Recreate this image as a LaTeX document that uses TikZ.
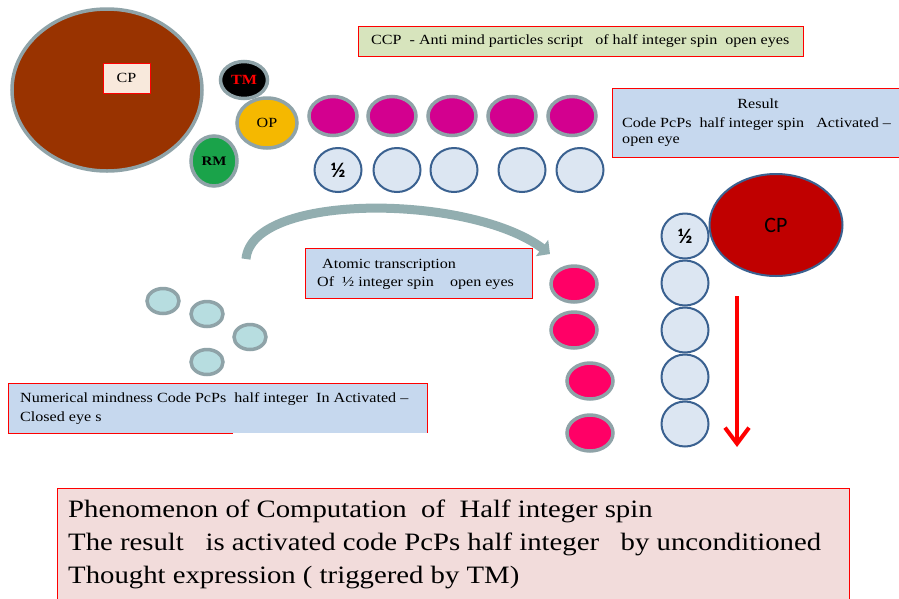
\documentclass[tikz,border=0pt]{standalone}
\usepackage{fontspec}
\setmainfont{Liberation Serif}[FakeStretch=1.15]
\newfontfamily\calib{Carlito}
\usetikzlibrary{shapes.geometric,arrows.meta}
\definecolor{ringc}{HTML}{8FA3A8}
\definecolor{brownc}{HTML}{993300}
\definecolor{cplblc}{HTML}{F8E9DC}
\definecolor{opc}{HTML}{F5B800}
\definecolor{rmc}{HTML}{1AA34A}
\definecolor{magc}{HTML}{D3008F}
\definecolor{pinkc}{HTML}{FF0066}
\definecolor{litec}{HTML}{DCE6F2}
\definecolor{dblue}{HTML}{3A6190}
\definecolor{redcp}{HTML}{C00000}
\definecolor{boxblue}{HTML}{C6D8EE}
\definecolor{boxgreen}{HTML}{D7E4BD}
\definecolor{boxpink}{HTML}{F2DCDB}
\definecolor{tealc}{HTML}{B7DDE0}
\definecolor{arrowc}{HTML}{92AEB0}
\begin{document}
\begin{tikzpicture}[x=1pt,y=-1pt,
  ball/.style={ellipse, draw=ringc, line width=3.5pt, inner sep=0pt},
  lite/.style={ellipse, draw=dblue, line width=2pt, fill=litec, inner sep=0pt, minimum width=47pt, minimum height=44pt},
  mag/.style={ball, fill=magc, minimum width=48pt, minimum height=39pt},
  pnk/.style={ball, fill=pinkc, minimum width=46pt, minimum height=36pt},
  teal/.style={ball, fill=tealc, minimum width=32pt, minimum height=25pt},
  col/.style={lite, minimum width=47pt, minimum height=45pt},
  txtbox/.style={draw=red, line width=1pt},
  lbl/.style={font=\fontsize{14}{17}\selectfont, inner sep=0pt, anchor=west},
  big/.style={font=\fontsize{25}{29}\selectfont, inner sep=0pt, anchor=west},
  half/.style={font=\calib\bfseries\fontsize{21}{21}\selectfont}]
\useasboundingbox (0,0) rectangle (899,598);
\fill[white] (0,0) rectangle (899,598);

% left cluster
\node[ball, fill=brownc, minimum width=190pt, minimum height=162pt] (cp) at (107,90) {};
\node[draw=red, line width=1pt, fill=cplblc, minimum width=47pt, minimum height=30pt, inner sep=0pt, font=\fontsize{14}{14}\selectfont] (cplbl) at (126.5,78) {CP};
\node[ball, fill=black, minimum width=47pt, minimum height=37pt, font=\bfseries\fontsize{14}{14}\selectfont, text=red] (tm) at (244,80) {TM};
\node[ball, fill=opc, minimum width=60pt, minimum height=50pt, font=\fontsize{14}{14}\selectfont] (op) at (267,123) {OP};
\node[ball, fill=rmc, minimum width=46pt, minimum height=50pt, font=\bfseries\fontsize{13}{13}\selectfont] (rm) at (214,161) {RM};

% CCP box
\node[txtbox, fill=boxgreen, minimum width=445pt, minimum height=30pt, inner sep=0pt] (ccp) at (580.5,41) {};
\node[lbl] (ccpt) at (371,41) {CCP\ \ - Anti mind particles script\ \ \ of half integer spin\ \ open eyes};

% magenta row
\node[mag] (m1) at (333,116) {};
\node[mag] (m2) at (392,116) {};
\node[mag] (m3) at (452,116) {};
\node[mag] (m4) at (512,116) {};
\node[mag] (m5) at (572,116) {};

% light row
\node[lite, half] (l1) at (338,170) {½};
\node[lite] (l2) at (397,170) {};
\node[lite] (l3) at (454,170) {};
\node[lite] (l4) at (522,170) {};
\node[lite] (l5) at (580,170) {};

% result box
\node[txtbox, fill=boxblue, minimum width=295pt, minimum height=69pt, inner sep=0pt] (res) at (759.5,122.5) {};
\node[font=\fontsize{14}{17}\selectfont, inner sep=0pt] (rest1) at (758,104) {Result};
\node[lbl] (rest2) at (622,124) {Code PcPs\ \ half integer spin\ \ \ Activated --};
\node[lbl] (rest3) at (622,142) {open eye};

% right column
\node[ellipse, draw=dblue, line width=2pt, fill=redcp, minimum width=133pt, minimum height=102pt, inner sep=0pt, font=\calib\fontsize{22}{22}\selectfont] (cp2) at (776,225) {CP};
\node[col, half] (c1) at (685,236) {½};
\node[col] (c2) at (685,283) {};
\node[col] (c3) at (685,330) {};
\node[col] (c4) at (685,377) {};
\node[col] (c5) at (685,424) {};
\coordinate (ra1) at (737,296);
\coordinate (ra2) at (737,447);
\draw[red, line width=4pt, -{Straight Barb[length=16pt,width=24pt]}] (ra1) -- (ra2);

% curved arrow
\coordinate (ca1) at (246,259);
\coordinate (ca2) at (550,254);
\draw[arrowc, line width=9pt, -{Triangle[length=10pt,width=20pt]}] (ca1) .. controls (252,192) and (470,194) .. (ca2);

% atomic box
\node[txtbox, fill=boxblue, minimum width=227pt, minimum height=50pt, inner sep=0pt] (atom) at (418.5,273) {};
\node[lbl] (atomt1) at (322,265) {Atomic transcription};
\node[lbl] (atomt2) at (317,283) {Of\ \ ½ integer spin\ \ \ \ open eyes};

% pink column
\node[pnk] (p1) at (574,284) {};
\node[pnk] (p2) at (574,330) {};
\node[pnk] (p3) at (590,381) {};
\node[pnk] (p4) at (590,433) {};

% teal circles
\node[teal] (t1) at (163,301) {};
\node[teal] (t2) at (207,314) {};
\node[teal] (t3) at (250,337) {};
\node[teal] (t4) at (207,362) {};

% numerical box
\node[fill=boxblue, minimum width=419pt, minimum height=50pt, inner sep=0pt] (num) at (217.5,408) {};
\draw[red, line width=1pt] (233,433) -- (8,433) -- (8,383) -- (427,383) -- (427,433);
\node[lbl] (numt1) at (20,399) {Numerical mindness Code PcPs\ \ half integer\ \ In Activated --};
\node[lbl] (numt2) at (20,418) {Closed eye s};

% bottom box
\node[txtbox, fill=boxpink, minimum width=792pt, minimum height=115pt, inner sep=0pt] (bot) at (453,545.5) {};
\node[big] (bt1) at (68,511) {Phenomenon of Computation\ \ of\ \ Half integer spin};
\node[big] (bt2) at (68,544) {The result\ \ \ is activated code PcPs half integer\ \ \ by unconditioned};
\node[big] (bt3) at (68,578) {Thought expression ( triggered by TM)};
\end{tikzpicture}
\end{document}
